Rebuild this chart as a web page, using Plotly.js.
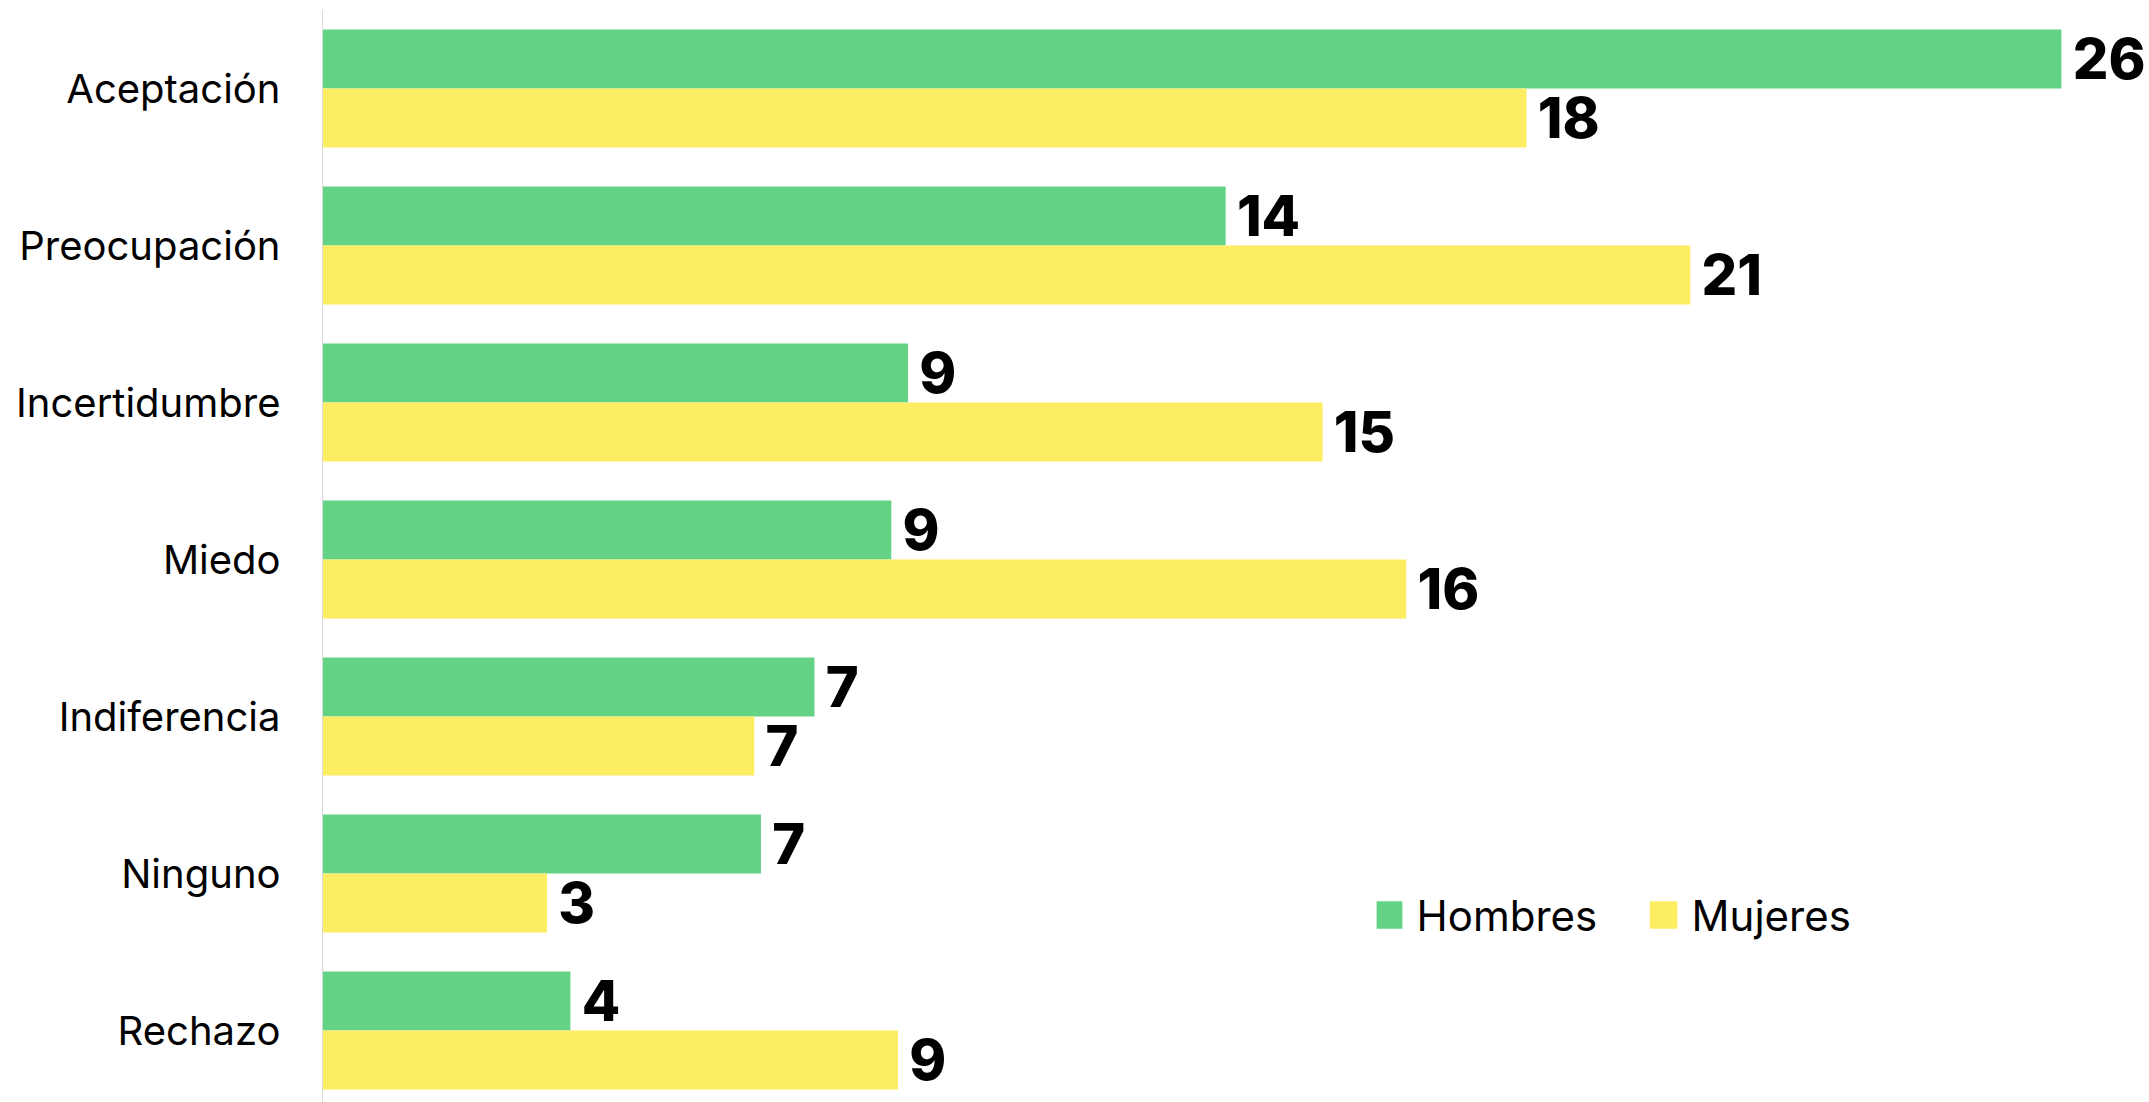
<!DOCTYPE html>
<html>
<head>
<meta charset="utf-8">
<script src="https://cdn.plot.ly/plotly-3.0.1.min.js"></script>
<style>
  html, body { margin: 0; padding: 0; background: #ffffff; }
  #chart { width: 2149px; height: 1102px; }
</style>
</head>
<body>
<div id="chart"></div>
<script>
// Categories (top to bottom)
const categories = ["Aceptación", "Preocupación", "Incertidumbre", "Miedo", "Indiferencia", "Ninguno", "Rechazo"];

// Bar lengths
const hombresValues = [26.0, 13.5, 8.75, 8.5, 7.35, 6.55, 3.7];
const mujeresValues = [18.0, 20.45, 14.95, 16.2, 6.45, 3.35, 8.6];

// Labels printed next to the bars
const hombresLabels = ["26", "14", "9", "9", "7", "7", "4"];
const mujeresLabels = ["18", "21", "15", "16", "7", "3", "9"];

const seriesNames = ["Hombres", "Mujeres"];
const green = "#64D385";
const yellow = "#FDED62";

const labelFont = { family: "Inter, 'Open Sans', sans-serif", size: 56, color: "#000000", weight: 800 };

const traces = [
  {
    type: "bar", orientation: "h", name: seriesNames[0],
    y: categories, x: hombresValues, text: hombresLabels,
    texttemplate: "\u2009%{text}", textposition: "outside", cliponaxis: false,
    constraintext: "none", textfont: labelFont,
    marker: { color: green, line: { width: 0 } }, hoverinfo: "skip"
  },
  {
    type: "bar", orientation: "h", name: seriesNames[1],
    y: categories, x: mujeresValues, text: mujeresLabels,
    texttemplate: "\u2009%{text}", textposition: "outside", cliponaxis: false,
    constraintext: "none", textfont: labelFont,
    marker: { color: yellow, line: { width: 0 } }, hoverinfo: "skip"
  }
];

const layout = {
  width: 2149, height: 1102,
  margin: { l: 323, r: 0, t: 10, b: 0, pad: 0 },
  paper_bgcolor: "#ffffff", plot_bgcolor: "#ffffff",
  barmode: "group", bargap: 0.248, bargroupgap: 0,
  font: { family: "Inter, 'Open Sans', sans-serif", color: "#000000" },
  xaxis: { range: [0, 27.31], visible: false, showgrid: false, zeroline: false },
  yaxis: {
    type: "category", range: [6.455, -0.5],
    showline: true, linecolor: "#d9d9d9", linewidth: 1.5,
    showgrid: false, zeroline: false, ticks: "",
    ticklabelstandoff: 33,
    tickfont: { family: "Inter, 'Open Sans', sans-serif", size: 40, color: "#000000" }
  },
  showlegend: true,
  legend: {
    orientation: "h", x: 0.577, xanchor: "left", y: 0.171, yanchor: "middle",
    entrywidth: 230, entrywidthmode: "pixels",
    font: { family: "Inter, 'Open Sans', sans-serif", size: 42, color: "#000000" },
    bgcolor: "rgba(0,0,0,0)", traceorder: "normal"
  }
};

Plotly.newPlot("chart", traces, layout, { displayModeBar: false, staticPlot: true }).then(function (gd) {
  gd.querySelectorAll(".legend .legendpoints path").forEach(function (p) {
    p.setAttribute("transform", "translate(12,0) scale(2.3)");
  });
});
</script>
</body>
</html>
